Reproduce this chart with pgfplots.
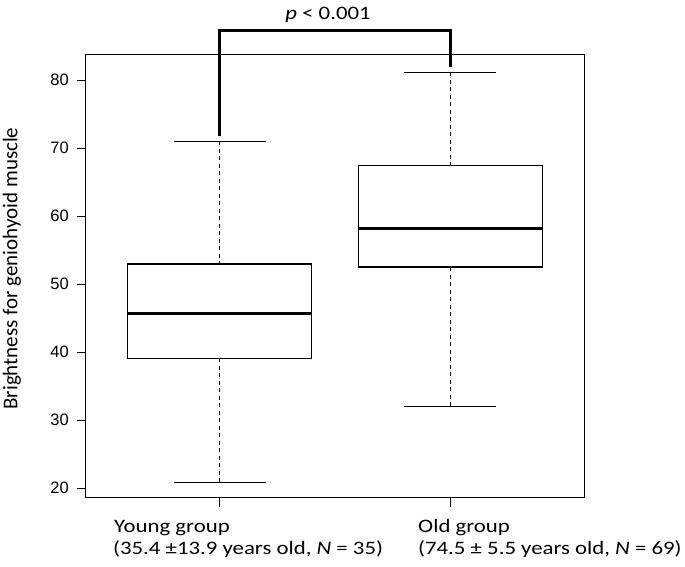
\documentclass[border=0pt]{standalone}
\usepackage{fontspec}
\setmainfont{Carlito}[FakeStretch=1.2]
\newfontfamily\ylabfont{Carlito}
\newfontfamily\tickfont{Liberation Sans}
\usepackage{pgfplots}
\pgfplotsset{compat=1.18}
\usepgfplotslibrary{statistics}

\begin{document}
\begin{tikzpicture}
\useasboundingbox (-86pt,-69pt) rectangle (599pt,498pt);
\begin{axis}[
  scale only axis, width=498pt, height=443pt,
  xmin=0.42, xmax=2.58, ymin=18.53, ymax=83.68,
  axis line style={line width=1pt},
  xtick={1,2}, xticklabels={},
  ytick={20,30,40,50,60,70,80},
  tick align=outside, major tick length=9pt,
  tick style={line width=0.9pt, black},
  xtick pos=lower, ytick pos=left,
  /pgf/number format/assume math mode=true,
  yticklabel style={font=\tickfont\fontsize{16.5}{16.5}\selectfont, inner sep=0pt, xshift=-8pt},
  clip=false,
  boxplot/draw direction=y,
  boxplot/box extend=0.8,
  boxplot/whisker extend=0.4,
  boxplot/every median/.style={line width=3pt},
  boxplot/draw/lower whisker/.code={
    \draw[dash pattern=on 4pt off 3.5pt, line width=0.8pt] (boxplot cs:\pgfplotsboxplotvalue{lower whisker}) -- (boxplot cs:\pgfplotsboxplotvalue{lower quartile});
    \draw (boxplot whisker cs:\pgfplotsboxplotvalue{lower whisker},0) -- (boxplot whisker cs:\pgfplotsboxplotvalue{lower whisker},1);
  },
  boxplot/draw/upper whisker/.code={
    \draw[dash pattern=on 4pt off 3.5pt, line width=0.8pt] (boxplot cs:\pgfplotsboxplotvalue{upper whisker}) -- (boxplot cs:\pgfplotsboxplotvalue{upper quartile});
    \draw (boxplot whisker cs:\pgfplotsboxplotvalue{upper whisker},0) -- (boxplot whisker cs:\pgfplotsboxplotvalue{upper whisker},1);
  },
]
\addplot[black, line width=1.1pt, boxplot prepared={draw position=1, lower whisker=20.85, lower quartile=39.05, median=45.65, upper quartile=52.95, upper whisker=71.0}] coordinates {};
\addplot[black, line width=1.1pt, boxplot prepared={draw position=2, lower whisker=32.05, lower quartile=52.5, median=58.15, upper quartile=67.45, upper whisker=81.15}] coordinates {};
\addplot[black, line width=3pt, line join=miter] coordinates {(1,71.7) (1,87.3) (2,87.3) (2,81.9)};
\end{axis}
\node[font=\fontsize{19}{19}\selectfont, anchor=base, inner sep=0pt] at (242pt,478.5pt) {\textit{p} < 0.001};
\node[rotate=90, font=\ylabfont\fontsize{21}{21}\selectfont, inner sep=0pt] at (-74pt,229.5pt) {Brightness for geniohyoid muscle};
\node[font=\fontsize{19}{19}\selectfont, anchor=base west, inner sep=0pt] at (28pt,-35pt) {Young group};
\node[font=\fontsize{19}{19}\selectfont, anchor=base west, inner sep=0pt] at (27pt,-57pt) {(35.4 ±13.9 years old, \textit{N} = 35)};
\node[font=\fontsize{19}{19}\selectfont, anchor=base west, inner sep=0pt] at (332pt,-35pt) {Old group};
\node[font=\fontsize{19}{19}\selectfont, anchor=base west, inner sep=0pt] at (332pt,-57pt) {(74.5 ± 5.5 years old, \textit{N} = 69)};
\end{tikzpicture}
\end{document}
